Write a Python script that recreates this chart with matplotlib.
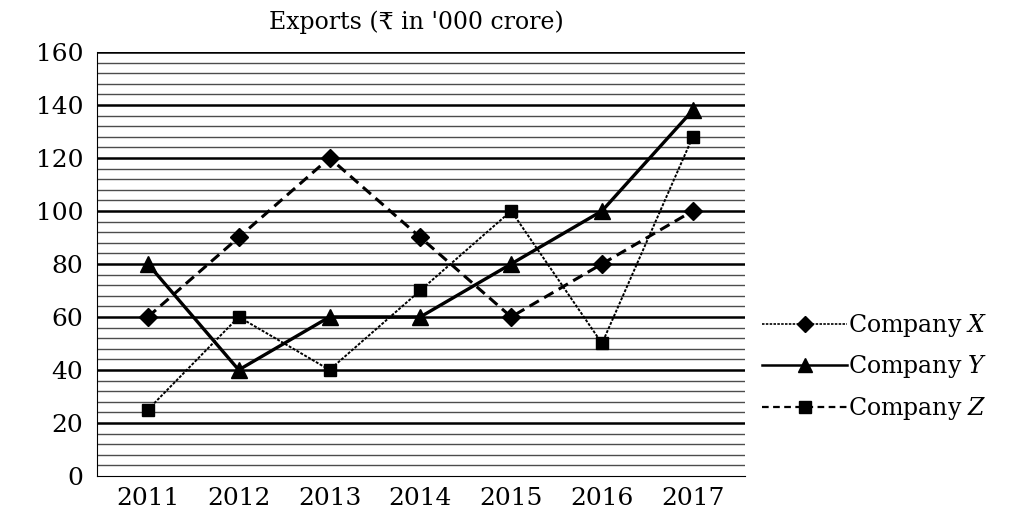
import matplotlib.pyplot as plt
from matplotlib.lines import Line2D
import numpy as np

years = ['2011', '2012', '2013', '2014', '2015', '2016', '2017']
company_x = [60, 90, 120, 90, 60, 80, 100]
company_y = [80, 40, 60, 60, 80, 100, 138]
company_z = [25, 60, 40, 70, 100, 50, 128]

plt.rcParams['font.family'] = ['DejaVu Serif', 'DejaVu Sans']
plt.rcParams['mathtext.fontset'] = 'dejavuserif'

fig = plt.figure(figsize=(10.15, 5.19), dpi=100)
ax = fig.add_axes([0.0956, 0.083, 0.638, 0.817])

x = np.arange(len(years))

# dense ruled background lines as in the printed chart
for v in np.arange(4, 160, 4):
    if v % 20 == 0:
        ax.axhline(v, color='black', lw=1.8, zorder=0)
    else:
        ax.axhline(v, color='black', lw=1.0, alpha=0.7, zorder=0)
ax.axhline(160, color='black', lw=1.8, zorder=0)

ax.plot(x, company_x, color='black', ls=(0, (3.5, 2)), lw=2.2,
        marker='D', ms=9, zorder=3)
ax.plot(x, company_y, color='black', ls='-', lw=2.4,
        marker='^', ms=11, zorder=3)
ax.plot(x, company_z, color='black', ls=(0, (1.5, 0.8)), lw=1.4,
        marker='s', ms=9, zorder=3)

ax.set_xlim(-0.56, 6.57)
ax.set_ylim(0, 160)
ax.set_yticks(range(0, 161, 20))
ax.set_xticks(x)
ax.set_xticklabels(years)
ax.tick_params(axis='both', labelsize=18, length=0, colors='black')
ax.tick_params(axis='y', pad=10)
ax.tick_params(axis='x', pad=8)
for s in ['top', 'right']:
    ax.spines[s].set_visible(False)
ax.spines['left'].set_linewidth(0.8)
ax.spines['bottom'].set_linewidth(0.8)

fig.text(0.41, 0.958, "Exports (₹ in '000 crore)", ha='center', va='center',
         fontsize=17)

handles = [
    Line2D([], [], color='black', ls=(0, (1.5, 0.8)), lw=1.2, marker='D', ms=8),
    Line2D([], [], color='black', ls='-', lw=1.8, marker='^', ms=10),
    Line2D([], [], color='black', ls=(0, (3, 2)), lw=1.6, marker='s', ms=8),
]
labels = ['Company $X$', 'Company $Y$', 'Company $Z$']
fig.legend(handles, labels, loc='center left', bbox_to_anchor=(0.73, 0.293),
           frameon=False, fontsize=17, handlelength=3.6, handletextpad=0.05,
           labelspacing=0.62)

fig.savefig('out.png', dpi=100)
